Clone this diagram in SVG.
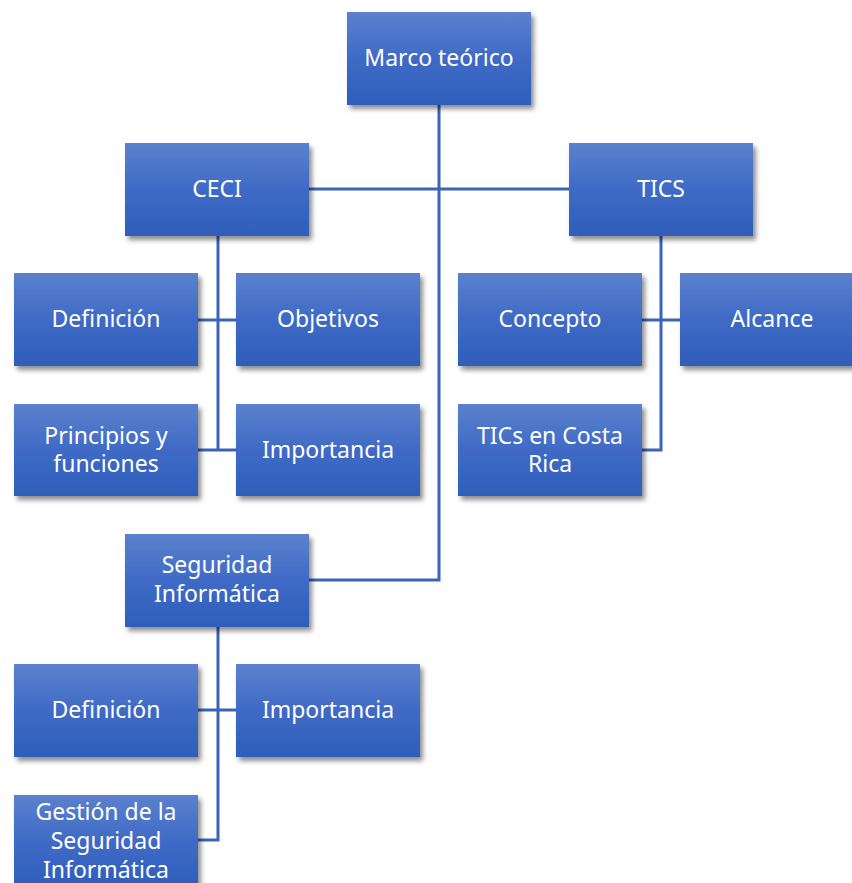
<svg xmlns="http://www.w3.org/2000/svg" width="852" height="883" viewBox="0 0 852 883">
  <defs>
    <linearGradient id="boxFill" x1="0" y1="0" x2="0" y2="1">
      <stop offset="0" stop-color="#5B81CD"/>
      <stop offset="0.5" stop-color="#3F6AC6"/>
      <stop offset="1" stop-color="#2E5EBA"/>
    </linearGradient>
    <filter id="shadow" x="-10%" y="-10%" width="125%" height="130%">
      <feGaussianBlur in="SourceAlpha" stdDeviation="2.5"/>
      <feOffset dx="3" dy="4" result="b"/>
      <feComponentTransfer><feFuncA type="linear" slope="0.45"/></feComponentTransfer>
      <feMerge><feMergeNode/><feMergeNode in="SourceGraphic"/></feMerge>
    </filter>
  </defs>
  <style>
    .box { fill: url(#boxFill); filter: url(#shadow); }
    .lbl { fill: #FFFFFF; font-family: "Noto Sans", "Liberation Sans", sans-serif; font-size: 23px; text-anchor: middle; }
    .conn { fill: none; stroke: #3A64B6; stroke-width: 3; }
  </style>
  <rect width="852" height="883" fill="#FFFFFF"/>

  <g id="connectors">
    <polyline class="conn" points="439,105 439,580 309,580"/>
    <line class="conn" x1="309" y1="189" x2="569" y2="189"/>
    <line class="conn" x1="218" y1="236" x2="218" y2="450"/>
    <line class="conn" x1="198" y1="320" x2="236" y2="320"/>
    <line class="conn" x1="198" y1="450" x2="236" y2="450"/>
    <polyline class="conn" points="661,236 661,450 642,450"/>
    <line class="conn" x1="642" y1="320" x2="680" y2="320"/>
    <polyline class="conn" points="218,627 218,840 198,840"/>
    <line class="conn" x1="198" y1="710" x2="236" y2="710"/>
  </g>

  <g id="marco-teorico">
    <rect class="box" x="347" y="12" width="184" height="93"/>
    <text class="lbl" x="439" y="66">Marco teórico</text>
  </g>
  <g id="ceci">
    <rect class="box" x="125" y="143" width="184" height="93"/>
    <text class="lbl" x="217" y="197">CECI</text>
  </g>
  <g id="tics">
    <rect class="box" x="569" y="143" width="184" height="93"/>
    <text class="lbl" x="661" y="197">TICS</text>
  </g>
  <g id="ceci-definicion">
    <rect class="box" x="14" y="273" width="184" height="93"/>
    <text class="lbl" x="106" y="327">Definición</text>
  </g>
  <g id="ceci-objetivos">
    <rect class="box" x="236" y="273" width="184" height="93"/>
    <text class="lbl" x="328" y="327">Objetivos</text>
  </g>
  <g id="tics-concepto">
    <rect class="box" x="458" y="273" width="184" height="93"/>
    <text class="lbl" x="550" y="327">Concepto</text>
  </g>
  <g id="tics-alcance">
    <rect class="box" x="680" y="273" width="184" height="93"/>
    <text class="lbl" x="772" y="327">Alcance</text>
  </g>
  <g id="ceci-principios">
    <rect class="box" x="14" y="404" width="184" height="92"/>
    <text class="lbl" x="106" y="444">Principios y</text>
    <text class="lbl" x="106" y="472">funciones</text>
  </g>
  <g id="ceci-importancia">
    <rect class="box" x="236" y="404" width="184" height="92"/>
    <text class="lbl" x="328" y="458">Importancia</text>
  </g>
  <g id="tics-costa-rica">
    <rect class="box" x="458" y="404" width="184" height="92"/>
    <text class="lbl" x="550" y="444">TICs en Costa</text>
    <text class="lbl" x="550" y="472">Rica</text>
  </g>
  <g id="seguridad-informatica">
    <rect class="box" x="125" y="534" width="184" height="93"/>
    <text class="lbl" x="217" y="573">Seguridad</text>
    <text class="lbl" x="217" y="602">Informática</text>
  </g>
  <g id="seguridad-definicion">
    <rect class="box" x="14" y="664" width="184" height="93"/>
    <text class="lbl" x="106" y="718">Definición</text>
  </g>
  <g id="seguridad-importancia">
    <rect class="box" x="236" y="664" width="184" height="93"/>
    <text class="lbl" x="328" y="718">Importancia</text>
  </g>
  <g id="seguridad-gestion">
    <rect class="box" x="14" y="795" width="184" height="93"/>
    <text class="lbl" x="106" y="820">Gestión de la</text>
    <text class="lbl" x="106" y="849">Seguridad</text>
    <text class="lbl" x="106" y="878">Informática</text>
  </g>
</svg>
